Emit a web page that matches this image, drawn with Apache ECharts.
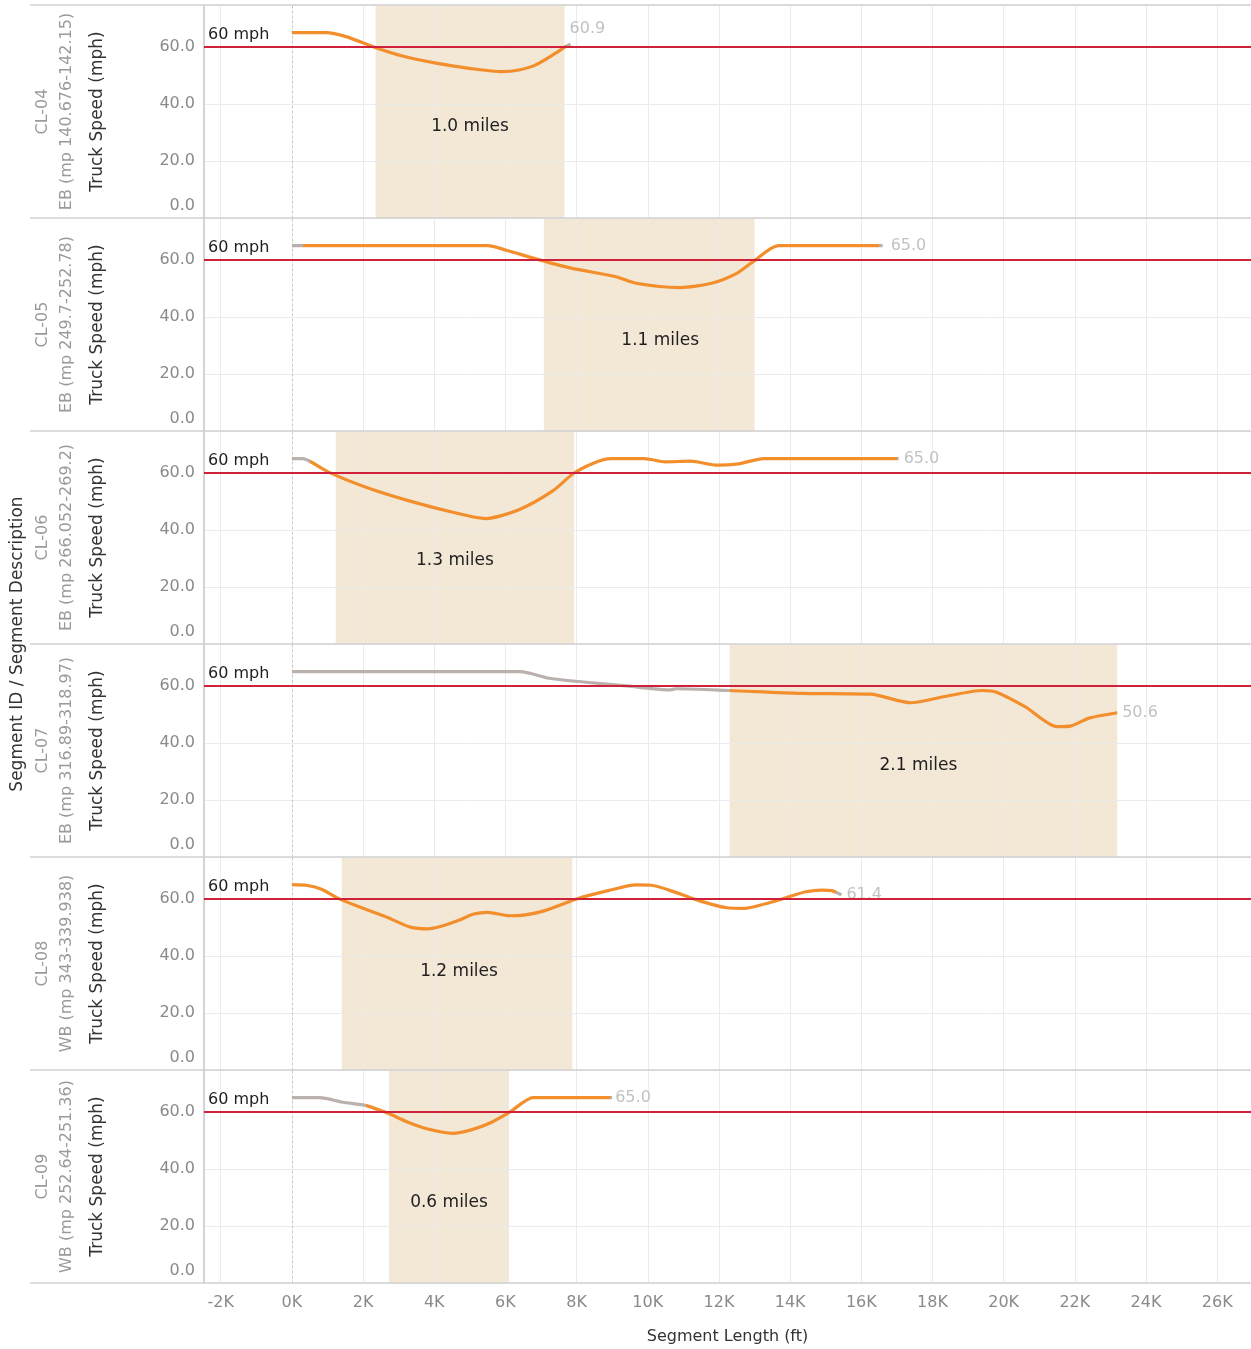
<!DOCTYPE html>
<html>
<head>
<meta charset="utf-8">
<script src="https://cdn.jsdelivr.net/npm/echarts@6/dist/echarts.min.js"></script>
<style>html,body{margin:0;padding:0;background:#fff}#chart{width:1251px;height:1349px}</style>
</head>
<body>
<div id="chart"></div>
<script>
// ---------------- data ----------------
const segmentIds = ['CL-04', 'CL-05', 'CL-06', 'CL-07', 'CL-08', 'CL-09'];
const segmentDescs = [
  'EB (mp 140.676-142.15)',
  'EB (mp 249.7-252.78)',
  'EB (mp 266.052-269.2)',
  'EB (mp 316.89-318.97)',
  'WB (mp 343-339.938)',
  'WB (mp 252.64-251.36)'
];
const bandStartFt = [2350, 7080, 1230, 12300, 1400, 2730];
const bandEndFt = [7660, 13000, 7930, 23190, 7880, 6100];
const bandLabels = ['1.0 miles', '1.1 miles', '1.3 miles', '2.1 miles', '1.2 miles', '0.6 miles'];
const speedLimit = 60;
const speedLimitLabel = '60 mph';

// segment length (ft) and truck speed (mph) per segment
const cl04Ft    = [0, 960, 1520, 2320, 3110, 4050, 4980, 5920, 6380, 6850, 7410, 7690, 7830];
const cl04Speed = [65.0, 65.0, 63.6, 59.9, 56.8, 54.3, 52.5, 51.3, 51.9, 53.7, 57.8, 60.1, 60.9];

const cl05Ft    = [0, 320, 5500, 6000, 6960, 7850, 9080, 9670, 10900, 11790, 12500, 12960, 13670, 16490, 16600];
const cl05Speed = [65.0, 65.0, 65.0, 63.5, 60.0, 57.1, 54.2, 51.8, 50.3, 51.8, 55.3, 59.4, 65.0, 65.0, 65.0];

const cl06Ft    = [0, 300, 500, 1080, 2140, 3320, 4490, 5440, 6380, 7320, 7900, 8490, 8960, 9900, 10500, 11200, 11960, 12550, 13260, 17000, 17050];
const cl06Speed = [65.0, 65.0, 64.1, 60.0, 54.7, 50.1, 46.3, 44.0, 47.1, 53.6, 59.7, 63.5, 65.0, 65.0, 63.9, 64.1, 62.7, 63.2, 65.0, 65.0, 65.0];

const cl07Ft    = [0, 6420, 7230, 8350, 9480, 10000, 10600, 10800, 12300, 14300, 16260, 17390, 18350, 19400, 19800, 20600, 21500, 21900, 22400, 23190];
const cl07Speed = [65.0, 65.0, 62.7, 61.2, 59.9, 59.2, 58.6, 59.0, 58.4, 57.4, 57.1, 54.1, 56.3, 58.4, 57.8, 52.7, 45.7, 46.0, 48.7, 50.6];

const cl08Ft    = [0, 440, 830, 1330, 2000, 2670, 3330, 3830, 4220, 4670, 5110, 5500, 6110, 6560, 7110, 8000, 8890, 9670, 10100, 10780, 11440, 12220, 12720, 13280, 13780, 14440, 14890, 15170, 15440];
const cl08Speed = [65.0, 64.7, 63.4, 60.0, 56.7, 53.6, 50.1, 49.5, 50.5, 52.4, 54.7, 55.3, 54.1, 54.4, 55.9, 60.0, 62.9, 64.9, 64.8, 62.3, 59.4, 56.9, 56.7, 58.2, 60.0, 62.5, 63.1, 62.9, 61.4];

const cl09Ft    = [0, 780, 1430, 2090, 2700, 3260, 3820, 4530, 5040, 5600, 6120, 6780, 8930, 9000];
const cl09Speed = [65.0, 65.0, 63.4, 62.2, 59.5, 56.4, 54.0, 52.5, 53.7, 56.3, 59.9, 65.0, 65.0, 65.0];

// highlighted (orange) part of each profile, in ft; outside is grey
const highlightFromFt = [0, 320, 500, 12300, 0, 2090];
const highlightToFt   = [7690, 16490, 17000, 1e9, 15300, 8930];

const xTickLabels = ['-2K','0K','2K','4K','6K','8K','10K','12K','14K','16K','18K','20K','22K','24K','26K'];

const profileFt = [cl04Ft, cl05Ft, cl06Ft, cl07Ft, cl08Ft, cl09Ft];
const profileSpeed = [cl04Speed, cl05Speed, cl06Speed, cl07Speed, cl08Speed, cl09Speed];

// ---------------- layout / style ----------------
const FONT = '"DejaVu Sans", sans-serif';
const PLOT_LEFT = 204;
const PANEL_TOP = 5;
const PANEL_H = 213;
const ORANGE = '#f28e2b';
const GREY = '#bab0ac';
const RED = '#d0213b';
const bandLabelOffsets = [[0, 15], [11, 16], [0, 23], [-5, 15], [2, 8], [0, 26]];
const endLabelOffsets = [[-6, -16], [3, 0], [0, 0], [0, 0], [0, 0], [-2, 0]];

const grids = [], xAxes = [], yAxes = [], series = [], visualMaps = [], graphics = [];
const n = segmentIds.length;

for (let k = 0; k < n; k++) {
  const top = PANEL_TOP + k * PANEL_H;
  grids.push({ left: PLOT_LEFT, right: 0, top: top, height: PANEL_H, containLabel: false });
  const last = k === n - 1;
  xAxes.push({
    gridIndex: k, type: 'value', min: -2470, max: 26950, splitNumber: 15, z: 1,
    axisLine: { show: false, onZero: false }, axisTick: { show: false },
    splitLine: { show: true, lineStyle: { color: '#ebebeb', width: 1 } },
    axisLabel: {
      show: last, showMinLabel: false, showMaxLabel: false, margin: 12,
      color: '#8a8a8a', fontSize: 16, fontFamily: FONT,
      formatter: v => {
        const lbl = (v / 1000) + 'K';
        return (Math.abs(v % 2000) < 1e-6 && xTickLabels.indexOf(lbl) >= 0) ? lbl : '';
      }
    },
    name: last ? 'Segment Length (ft)' : '', nameLocation: 'middle', nameGap: 46,
    nameTextStyle: { color: '#333', fontSize: 16, fontFamily: FONT }
  });
  yAxes.push({
    gridIndex: k, type: 'value', min: 0, max: 74.7, interval: 20, z: 1,
    axisLine: { show: true, onZero: false, lineStyle: { color: '#c8c8c8', width: 1.5 } },
    axisTick: { show: false },
    splitLine: { show: true, lineStyle: { color: '#ebebeb', width: 1 } },
    axisLabel: {
      showMaxLabel: false, margin: 9, color: '#8a8a8a', fontSize: 16, fontFamily: FONT,
      formatter: v => (Math.abs(v % 20) > 1e-6) ? '' : (v === 0 ? '{z|0.0}' : v.toFixed(1)),
      rich: { z: { color: '#8a8a8a', fontSize: 16, fontFamily: FONT, padding: [0, 0, 24, 0] } }
    }
  });

  // band fill (below grid lines) + zero marker
  series.push({
    type: 'line', xAxisIndex: k, yAxisIndex: k, data: [], z: 0, silent: true,
    markArea: {
      silent: true, z: 0,
      itemStyle: { color: '#f3e7d6' },
      label: { show: false },
      data: [[{ xAxis: bandStartFt[k] }, { xAxis: bandEndFt[k] }]]
    },
    markLine: {
      silent: true, symbol: ['none', 'none'], z: 1,
      lineStyle: { color: '#c4c4c4', type: [2, 3], width: 1 },
      label: { show: false },
      data: [{ xAxis: 0 }]
    }
  });
  // band label (above grid lines)
  series.push({
    type: 'line', xAxisIndex: k, yAxisIndex: k, data: [], z: 2, silent: true,
    markArea: {
      silent: true, z: 2,
      itemStyle: { color: 'rgba(0,0,0,0)' },
      label: {
        show: true, position: 'inside', formatter: '{b}', offset: bandLabelOffsets[k],
        color: '#1f1f1f', fontSize: 17, fontFamily: FONT
      },
      data: [[{ name: bandLabels[k], xAxis: bandStartFt[k] }, { xAxis: bandEndFt[k] }]]
    }
  });

  const lineIdx = series.length;
  const pts = profileFt[k].map((x, i) => [x, profileSpeed[k][i]]);
  series.push({
    type: 'line', xAxisIndex: k, yAxisIndex: k, z: 3,
    data: pts, showSymbol: false, smooth: 0.25, silent: true,
    lineStyle: { width: 3.2 },
    endLabel: {
      show: true, distance: 5, offset: endLabelOffsets[k],
      formatter: p => p.value[1].toFixed(1),
      color: '#c2c2c2', fontSize: 16, fontFamily: FONT
    },
    markLine: {
      silent: true, symbol: ['none', 'none'], z: 5,
      lineStyle: { color: RED, type: 'solid', width: 2 },
      label: {
        show: true, position: 'insideStartTop', formatter: speedLimitLabel, distance: [4, 4],
        color: '#1f1f1f', fontSize: 16, fontFamily: FONT
      },
      data: [{ yAxis: speedLimit }]
    }
  });
  visualMaps.push({
    type: 'piecewise', show: false, seriesIndex: lineIdx, dimension: 0,
    pieces: [
      { lt: highlightFromFt[k], color: GREY },
      { gte: highlightFromFt[k], lte: highlightToFt[k], color: ORANGE },
      { gt: highlightToFt[k], color: GREY }
    ]
  });

  // left-side labels
  const cy = top + PANEL_H / 2;
  graphics.push({
    type: 'text', x: 43, y: cy, rotation: Math.PI / 2, silent: true,
    style: { text: segmentIds[k], fill: '#9a9a9a', font: '16px ' + FONT, align: 'center', verticalAlign: 'middle' }
  });
  graphics.push({
    type: 'text', x: 67, y: cy, rotation: Math.PI / 2, silent: true,
    style: { text: segmentDescs[k], fill: '#9a9a9a', font: '16px ' + FONT, align: 'center', verticalAlign: 'middle' }
  });
  graphics.push({
    type: 'text', x: 98, y: cy, rotation: Math.PI / 2, silent: true,
    style: { text: 'Truck Speed (mph)', fill: '#333', font: '17px ' + FONT, align: 'center', verticalAlign: 'middle' }
  });
}
// panel separators
for (let k = 0; k <= n; k++) {
  const y = PANEL_TOP + k * PANEL_H;
  graphics.push({
    type: 'line', silent: true, z: 10,
    shape: { x1: 30, y1: y, x2: 1251, y2: y },
    style: { stroke: '#d2d2d2', lineWidth: 1.5 }
  });
}
graphics.push({
  type: 'text', x: 18, y: PANEL_TOP + n * PANEL_H / 2, rotation: Math.PI / 2, silent: true,
  style: { text: 'Segment ID / Segment Description', fill: '#333', font: '17px ' + FONT, align: 'center', verticalAlign: 'middle' }
});

const chart = echarts.init(document.getElementById('chart'), null, { renderer: 'canvas' });
chart.setOption({
  animation: false,
  backgroundColor: '#fff',
  grid: grids, xAxis: xAxes, yAxis: yAxes,
  visualMap: visualMaps,
  series: series,
  graphic: graphics
});
</script>
</body>
</html>
